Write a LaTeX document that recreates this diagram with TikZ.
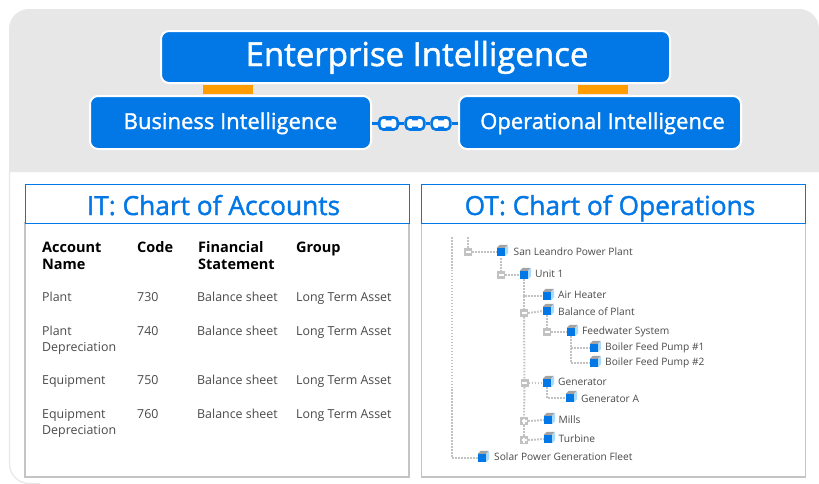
\documentclass[tikz,border=0pt]{standalone}
\usepackage{fontspec}
\setmainfont{Open Sans}
\newfontfamily\medfont{Open Sans}[FakeBold=1.4]
\usepackage{xcolor}
\usetikzlibrary{positioning,shapes,calc}

\definecolor{entblue}{HTML}{0277E6}
\definecolor{panelgray}{HTML}{E7E7E7}
\definecolor{barorange}{HTML}{FF9D00}
\definecolor{framegray}{HTML}{C4C4C4}
\definecolor{dotgray}{HTML}{C2C2C2}
\definecolor{textgray}{HTML}{4A4A4A}
\definecolor{sidecyan}{HTML}{A9DAFF}
\definecolor{topgray}{HTML}{A3A3A3}

\tikzset{
  bluebox/.style={draw=white,line width=2pt,fill=entblue,rounded corners=8pt,text=white,inner sep=0pt,text depth=0pt},
  headbox/.style={draw=entblue,line width=0.9pt,fill=white,text=entblue,inner sep=0pt,text height=23pt,text depth=0pt},
  chartframe/.style={draw=framegray,line width=1.2pt,fill=white,inner sep=0pt},
  chainlink/.style={draw=entblue,line width=2.6pt,fill=white,rounded corners=4pt,minimum width=18.5pt,minimum height=12pt,inner sep=0pt},
  colhead/.style={anchor=north west,align=left,inner sep=0pt,text=black,font=\fontsize{14.5}{17}\selectfont\bfseries},
  cell/.style={anchor=north west,align=left,inner sep=0pt,text=textgray,font=\fontsize{12.4}{16}\selectfont},
  treecube/.style={fill=entblue,minimum size=8pt,inner sep=0pt},
  treebox/.style={fill=dotgray,minimum width=8pt,minimum height=7.5pt,inner sep=0pt},
  treelabel/.style={anchor=west,inner sep=0pt,text=textgray,text height=7.4pt,text depth=0pt,font=\fontsize{10.2}{12}\selectfont},
  treeline/.style={draw=dotgray,line width=2pt,dash pattern=on 1.6pt off 1.39pt}
}

\begin{document}
\begin{tikzpicture}[x=1pt,y=-1pt]
\useasboundingbox (0,0) rectangle (819,483);
% panel
\fill [white] (0,0) rectangle (819,483);
\draw [panelgray,line width=1.2pt,rounded corners=20pt] (9.5,172) -- (9.5,483.6) -- (40,483.6);
\fill [panelgray,rounded corners=20pt] (9,172) [sharp corners] -- (9,172) [rounded corners=20pt] -- (9,9) -- (819,9) [sharp corners] -- (819,172) -- cycle;
% top boxes
\fill [barorange] (203,85) rectangle (253,94);
\fill [barorange] (578,85) rectangle (628,94);
\node [bluebox,minimum width=509pt,minimum height=52pt,text height=18pt,font=\medfont\fontsize{33}{36}\selectfont] (enterprise) at (415.5,57) {\hspace{3pt}Enterprise Intelligence};
\node [bluebox,minimum width=281pt,minimum height=53pt,text height=13pt,font=\medfont\fontsize{22}{26}\selectfont] (business) at (230.5,122.5) {Business Intelligence};
\node [bluebox,minimum width=282pt,minimum height=53pt,text height=13pt,font=\medfont\fontsize{22}{26}\selectfont] (operational) at (600,122.5) {\hspace{5pt}Operational Intelligence};
% chain
\node [chainlink] (link1) at (388.5,123.5) {};
\node [chainlink] (link2) at (415,123.5) {};
\node [chainlink] (link3) at (441,123.5) {};
\draw [entblue,line width=2.2pt] (business.east |- link1) -- (link1);
\draw [entblue,line width=2.2pt] (link1) -- (link2);
\draw [entblue,line width=2.2pt] (link2) -- (link3);
\draw [entblue,line width=2.2pt] (link3) -- (operational.west |- link3);
\foreach \lnk in {link1,link2,link3}{
  \draw [white,line width=3.5pt] (\lnk.west) ++(3,0) -- ++(12.5,0);
  \fill [entblue] (\lnk.north) ++(-3,0) rectangle ++(6,4.2) (\lnk.south) ++(-3,0) rectangle ++(6,-4.2);
}
% charts
\node [chartframe,minimum width=384pt,minimum height=254pt] (itframe) at (217,350) {};
\node [chartframe,minimum width=384pt,minimum height=254pt] (otframe) at (613.5,350) {};
\node [headbox,minimum width=384pt,minimum height=39pt,font=\medfont\fontsize{26.3}{30}\selectfont] (ithead) at (217,203.5) {IT: Chart of Accounts\kern7pt};
\node [headbox,minimum width=384pt,minimum height=39pt,font=\medfont\fontsize{26.3}{30}\selectfont] (othead) at (613.5,203.5) {OT: Chart of Operations\kern7pt};
% table
\node [colhead] (colname) at (42,240.6) {\strut Account\\Name};
\node [colhead] (colcode) at (137,240.6) {\strut Code};
\node [colhead] (colstmt) at (198,240.6) {\strut Financial\\Statement};
\node [colhead] (colgroup) at (296,240.6) {\strut Group};
\foreach \rw/\yy/\acct/\cd in {1/290.3/Plant/730,2/324.3/Plant\\Depreciation/740,3/373.3/Equipment/750,4/407.3/Equipment\\Depreciation/760}{
  \node [cell] (acct\rw) at (42,\yy) {\strut\acct};
  \node [cell] (code\rw) at (137,\yy) {\strut\cd};
  \node [cell] (stmt\rw) at (197,\yy) {\strut Balance sheet};
  \node [cell] (group\rw) at (296,\yy) {\strut Long Term Asset};
}
% tree
\foreach \nm/\xx/\yy/\lx/\ly/\lab in {
  san/501/252/513.5/251.5/San Leandro Power Plant,
  unit/524/275/535/273.5/Unit 1,
  air/547/296/558/294.5/Air Heater,
  bal/547/311/558/311.5/Balance of Plant,
  feed/571/332/582/330.5/Feedwater System,
  pumpa/594/348/605/346.5/Boiler Feed Pump \#1,
  pumpb/594/363/605/361.5/Boiler Feed Pump \#2,
  gen/547/383/558/381.5/Generator,
  gena/570/398/581/399/Generator A,
  mills/548/420/558.5/419.5/Mills,
  turb/548/439/558.5/438.5/Turbine,
  solar/482/458/494/456.5/Solar Power Generation Fleet}{
  \node [treecube] (\nm) at (\xx,\yy) {};
  \fill [topgray] (\nm.north west) -- ++(3,-3) -- ++(8,0) -- (\nm.north east) -- cycle;
  \fill [sidecyan] (\nm.north east) -- ++(3,-3) -- ++(0,8) -- (\nm.south east) -- cycle;
  \node [treelabel] (\nm lab) at (\lx,\ly) {\lab};
}
\foreach \nm/\xx/\yy in {sanbox/468/252,unitbox/501/275,balbox/524/313,feedbox/547/332,genbox/524.5/383,millsbox/524/421,turbbox/524/440}
  \node [treebox] (\nm) at (\xx,\yy) {};
\foreach \nm in {sanbox,unitbox,balbox,feedbox,genbox}
  \fill [white] (\nm.center) ++(-2.5,-0.6) rectangle ++(5,1.2);
\foreach \nm in {millsbox,turbbox}{
  \fill [white] (\nm.center) ++(-2.5,-0.6) rectangle ++(5,1.2);
  \fill [white] (\nm.center) ++(-0.6,-2.5) rectangle ++(1.2,5);
}
\coordinate (rootleft) at (452,237);
\coordinate (rootmid) at (468,237);
\draw [treeline] (rootleft) |- (solar.west);
\draw [treeline] (rootmid) -- (sanbox.north);
\draw [treeline] (sanbox.east) -- (san.west);
\draw [treeline] (sanbox.east -| unitbox) ++(0,6) -- (unitbox.north);
\draw [treeline] (unitbox.east) -- (unit.west);
\draw [treeline] (unit.south) |- (air.west);
\draw [treeline] (air.west -| unit) -- (balbox.north);
\draw [treeline] (balbox.east) -- (bal.west);
\draw [treeline] (balbox.south) -- (genbox.north);
\draw [treeline] (bal.south) -- (feedbox.north);
\draw [treeline] (feedbox.east) -- (feed.west);
\draw [treeline] (feed.south) |- (pumpa.west);
\draw [treeline] (feed.south) |- (pumpb.west);
\draw [treeline] (genbox.east) -- (gen.west);
\draw [treeline] (gen.south) |- (gena.west);
\draw [treeline] (genbox.south) -- (millsbox.north);
\draw [treeline] (millsbox.east) -- (mills.west);
\draw [treeline] (millsbox.south) -- (turbbox.north);
\draw [treeline] (turbbox.east) -- (turb.west);
\end{tikzpicture}
\end{document}
